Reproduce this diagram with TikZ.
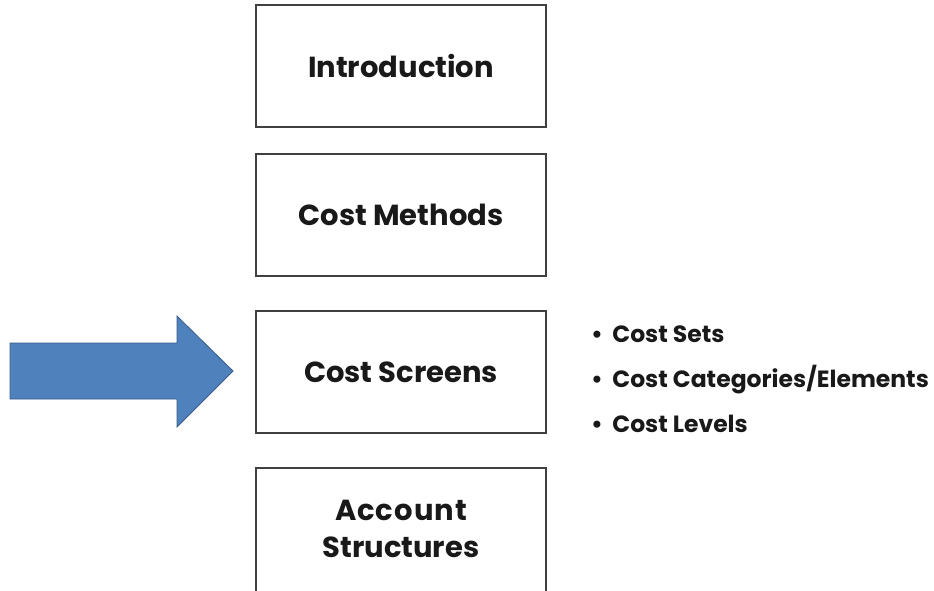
\documentclass[tikz,border=0pt]{standalone}
\usepackage{fontspec}
\setmainfont{Poppins}
\begin{document}
\begin{tikzpicture}[x=1pt,y=-1pt,
  boxstyle/.style={draw=black!75, line width=1.3pt, minimum width=290pt, minimum height=122pt, inner sep=0pt, outer sep=0pt, anchor=north west, align=center, font=\fontsize{29}{37}\selectfont\bfseries, text=black!90},
  openbox/.style={boxstyle, draw=none},
  boxline/.style={draw=black!75, line width=1.3pt},
  itemstyle/.style={anchor=base west, inner sep=0pt, font=\fontsize{23.5}{26}\selectfont\bfseries, text=black!90},
  arrowstyle/.style={fill=arrowblue, draw=arrowedge, line width=0.8pt, line join=miter}]
\definecolor{arrowblue}{HTML}{4F81BD}
\definecolor{arrowedge}{HTML}{385D8A}
\useasboundingbox (0,0) rectangle (934,590);
\clip (0,0) rectangle (934,590);
\node[boxstyle] (intro) at (256,5) {Introduction};
\node[boxstyle] (methods) at (256,154) {Cost Methods};
\node[boxstyle] (screens) at (256,311) {Cost Screens};
\node[openbox] (account) at (256,468) {A\kern1pt c\kern1pt c\kern1pt o\kern1pt u\kern1pt n\kern1pt t\\Structures};
\draw[boxline] (account.north west) rectangle ([yshift=-12pt]account.south east);
\node[itemstyle] (sets) at (591,342) {•\hspace{0.4em}Cost Sets};
\node[itemstyle] (cats) at (591,387) {•\hspace{0.4em}Cost Categories/Elements};
\node[itemstyle] (levels) at (591,432) {•\hspace{0.4em}Cost Levels};
\coordinate (tip) at (233,371);
\draw[arrowstyle] (10,343) -- (177,343) -- (177,316) -- (tip) -- (177,427) -- (177,399) -- (10,399) -- cycle;
\end{tikzpicture}
\end{document}
